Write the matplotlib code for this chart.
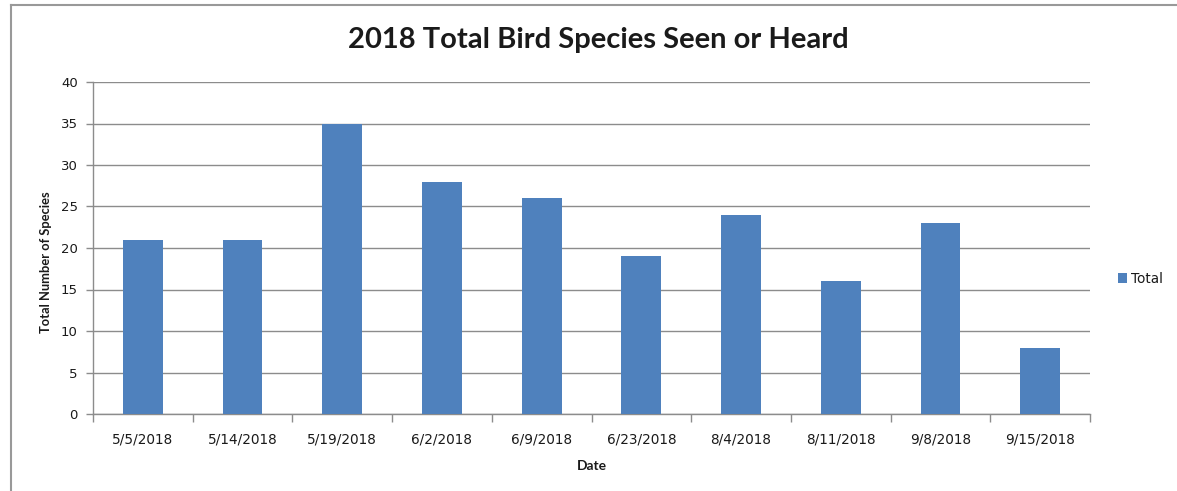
import matplotlib
matplotlib.use("Agg")
import matplotlib.pyplot as plt
from matplotlib.lines import Line2D
import numpy as np

dates = ["5/5/2018", "5/14/2018", "5/19/2018", "6/2/2018", "6/9/2018",
         "6/23/2018", "8/4/2018", "8/11/2018", "9/8/2018", "9/15/2018"]
totals = [21, 21, 35, 28, 26, 19, 24, 16, 23, 8]
yticks = [0, 5, 10, 15, 20, 25, 30, 35, 40]

plt.rcParams['font.family'] = ['Lato', 'DejaVu Sans']
bar_color = "#4F81BD"
grid_color = "#8C8C8C"
text_color = "#1a1a1a"
tick_font = 'DejaVu Sans'

fig = plt.figure(figsize=(11.77, 4.91), dpi=100)
ax = fig.add_axes([93/1177, 1-414/491, (1090-93)/1177, (414-82)/491])

x = np.arange(len(dates))
ax.bar(x, totals, width=0.4, color=bar_color, label="Total", zorder=3)

ax.set_xlim(-0.5, len(dates) - 0.5)
ax.set_ylim(0, 40)
ax.set_yticks(yticks)
ax.set_yticklabels([str(v) for v in yticks], fontsize=9.5, color=text_color, family=tick_font)
ax.yaxis.grid(True, color=grid_color, linewidth=1.0, zorder=0)
ax.tick_params(axis='y', length=5, color=grid_color, width=1.0, pad=6)

ax.set_xticks(np.arange(-0.5, len(dates)), minor=False)
ax.set_xticklabels([""] * (len(dates) + 1))
ax.set_xticks(x, minor=True)
ax.set_xticklabels(dates, minor=True, fontsize=9.8, color=text_color, family=tick_font)
ax.tick_params(axis='x', which='major', length=6, color=grid_color, width=1.0)
ax.tick_params(axis='x', which='minor', length=0, pad=13)

for s in ['top', 'right']:
    ax.spines[s].set_visible(False)
for s in ['left', 'bottom']:
    ax.spines[s].set_color(grid_color)
    ax.spines[s].set_linewidth(1.0)

ax.set_xlabel("Date", fontsize=10, fontweight='bold', color=text_color, labelpad=10)
ax.set_ylabel("Total Number of Species", fontsize=9.3, fontweight='bold', color=text_color)
ax.yaxis.set_label_coords(-0.041, 0.458)

fig.text(598/1177, 1-40/491, "2018 Total Bird Species Seen or Heard",
         ha='center', va='center', fontsize=21, fontweight='bold', color=text_color)

leg = ax.legend(loc='center left', bbox_to_anchor=(1111/1177, 1-279/491),
                bbox_transform=fig.transFigure, frameon=False,
                prop={'family': tick_font, 'size': 9.8},
                handlelength=0.7, handleheight=0.7, handletextpad=0.3, borderpad=0)
for t in leg.get_texts():
    t.set_color(text_color)

# outer chart border
fig.add_artist(Line2D([11/1177, 11/1177], [0, 1-5/491], transform=fig.transFigure,
                      color="#999999", linewidth=1.5))
fig.add_artist(Line2D([11/1177, 1], [1-5/491, 1-5/491], transform=fig.transFigure,
                      color="#999999", linewidth=1.5))

fig.savefig("out.png", dpi=100)
